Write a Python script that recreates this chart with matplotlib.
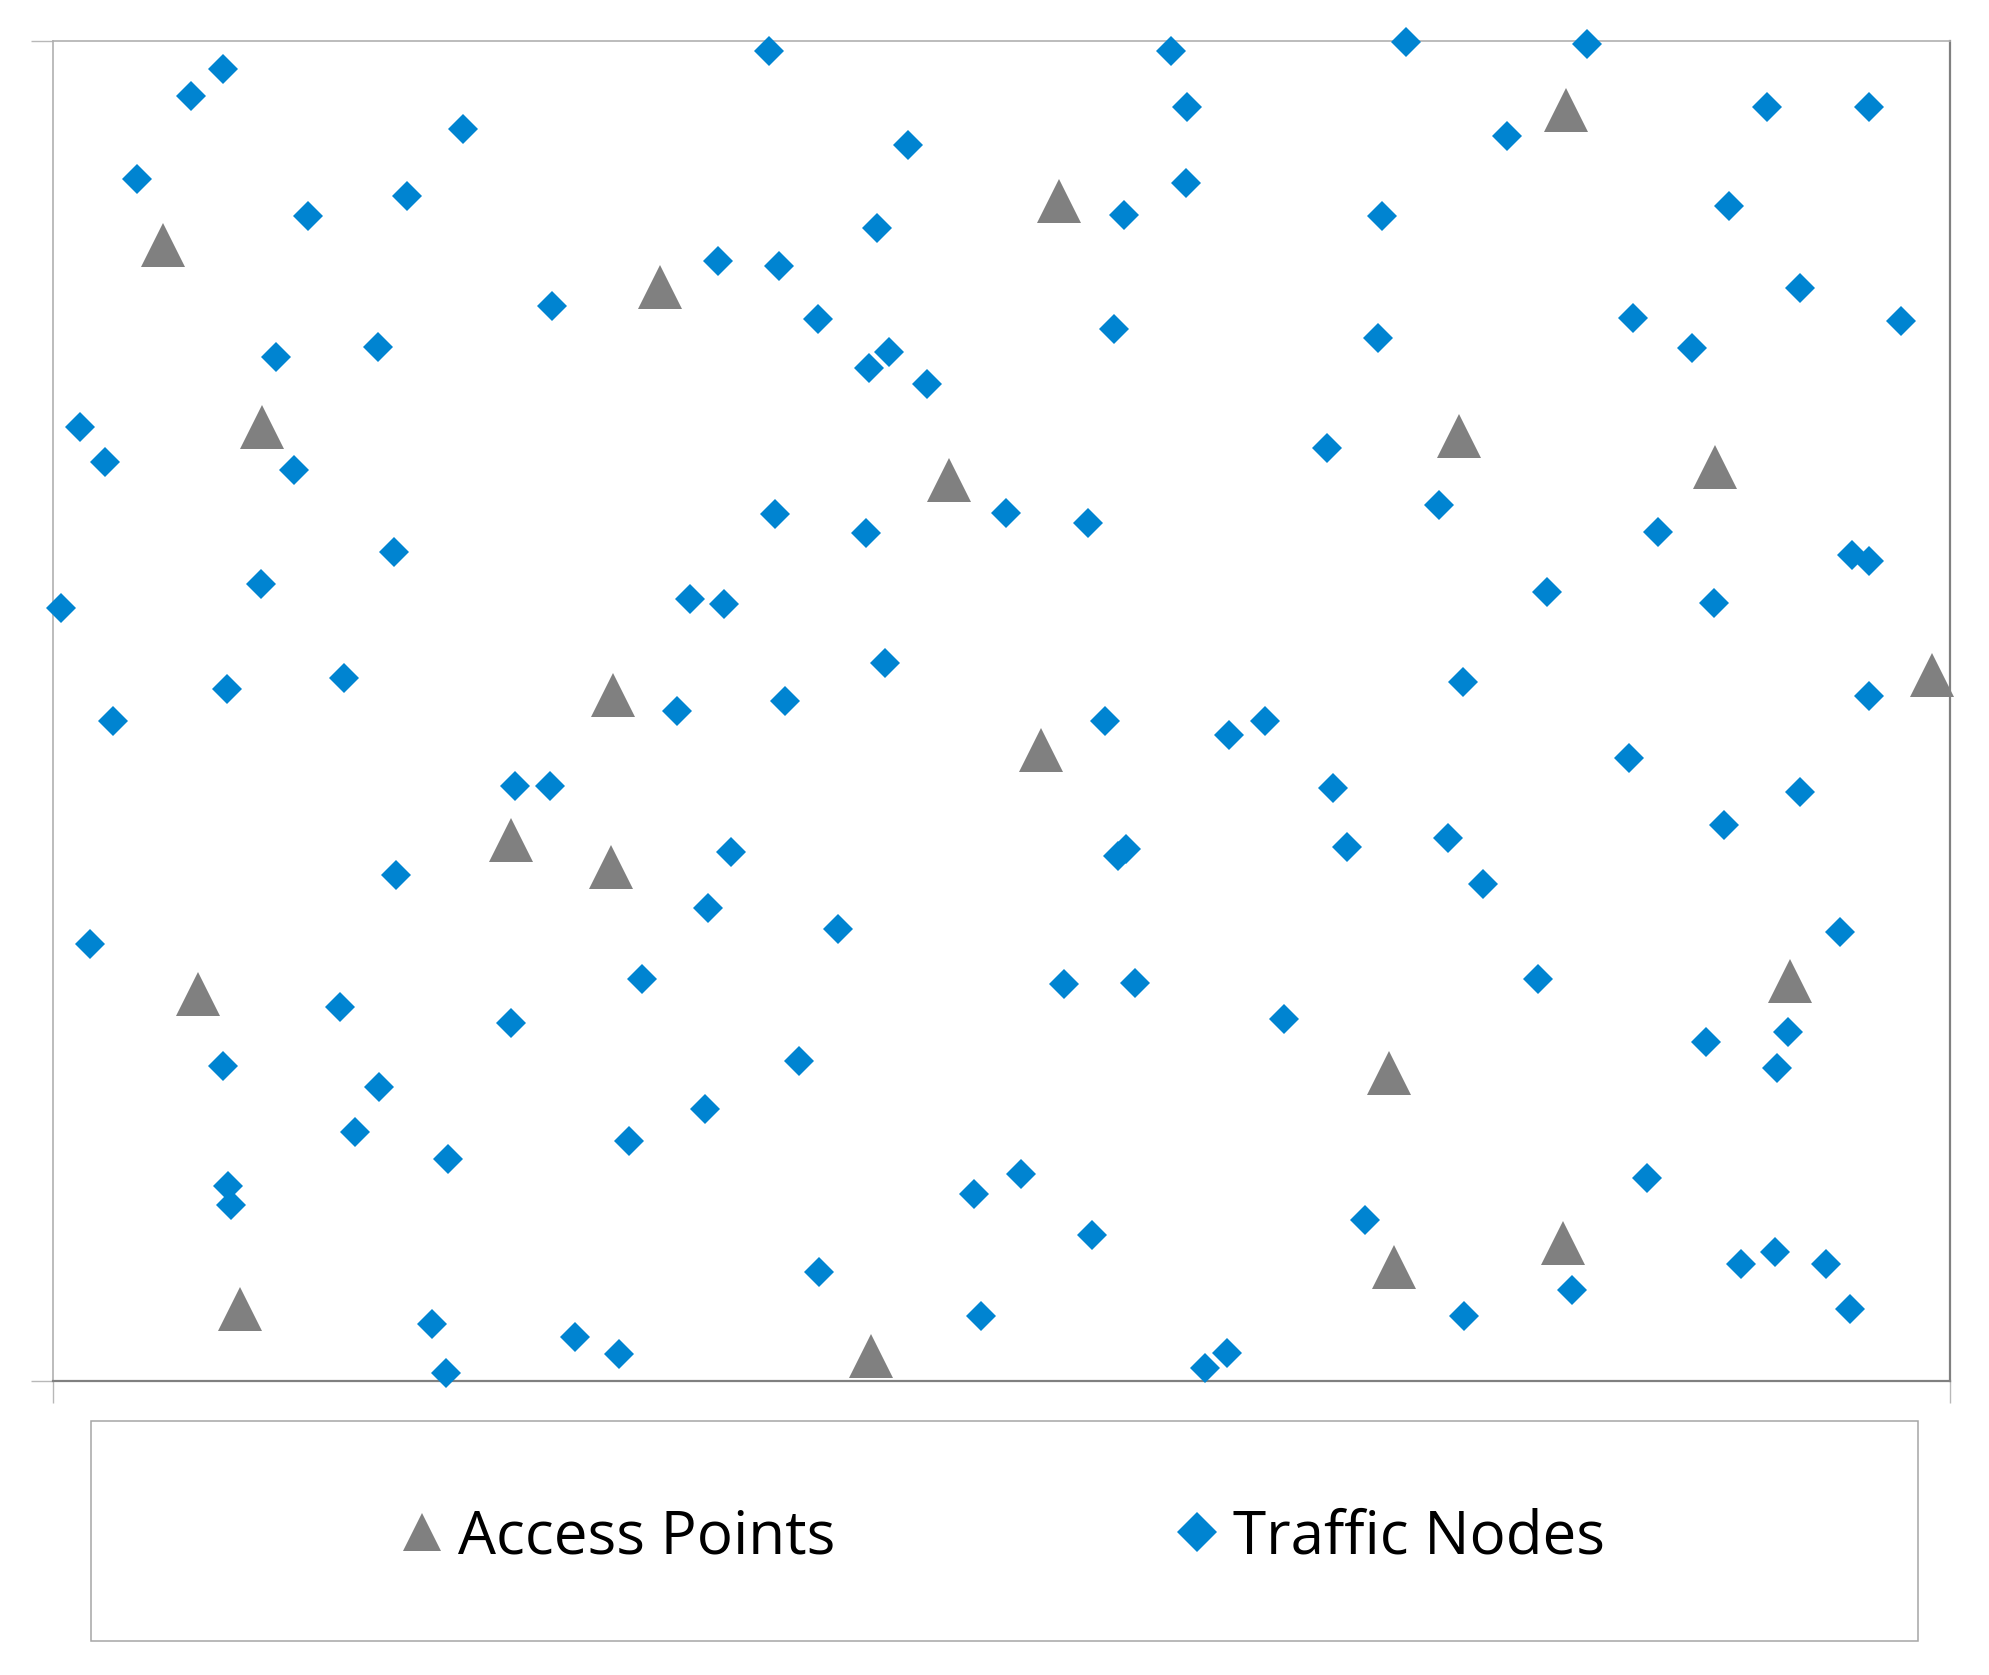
import matplotlib
matplotlib.use("Agg")
import matplotlib.pyplot as plt
from matplotlib.lines import Line2D
from matplotlib.patches import Rectangle

plt.rcParams['font.family'] = ['Open Sans', 'DejaVu Sans']

# simulation area
area_w = 1495
area_h = 1056

# access points (x, y)
ap_x = [87, 478, 793, 1192, 165, 706, 1108, 1310, 441, 779,
        1481, 361, 440, 114, 1369, 1053, 1057, 1190, 147, 645]
ap_y = [895, 862, 930, 1002, 752, 710, 745, 720, 541, 497,
        556, 426, 405, 305, 315, 243, 90, 109, 57, 20]

# traffic nodes (x, y)
node_x = [564, 881, 1066, 1209, 134, 109, 894, 1351, 1431, 323,
          1146, 674, 66, 893, 279, 1321, 201, 844, 1047, 649,
          524, 572, 1377, 393, 603, 1245, 1456, 836, 1044, 256,
          1292, 659, 176, 643, 689, 21, 1004, 41, 190, 1092,
          569, 751, 816, 641, 1265, 269, 1418, 1431, 164, 1177,
          502, 529, 1309, 6, 656, 229, 1111, 137, 492, 577,
          1431, 829, 955, 47, 927, 1242, 364, 392, 1009, 1377,
          1317, 1099, 1020, 534, 839, 846, 270, 1127, 516, 619,
          1408, 29, 464, 1170, 797, 853, 226, 361, 970, 1303,
          1367, 588, 134, 1359, 257, 514, 238, 454, 311, 1256,
          138, 140, 763, 726, 819, 1034, 604, 1330, 1357, 1397,
          1197, 1416, 731, 1112, 299, 411, 446, 925, 908, 310]
node_y = [1048, 1048, 1055, 1054, 1034, 1013, 1004, 1004, 1004, 987,
          981, 974, 947, 944, 934, 926, 918, 919, 918, 909,
          883, 879, 861, 847, 837, 838, 835, 829, 822, 815,
          814, 811, 807, 798, 786, 752, 735, 724, 718, 690,
          683, 684, 676, 668, 669, 653, 651, 646, 628, 622,
          616, 612, 613, 609, 566, 554, 551, 545, 528, 536,
          540, 520, 520, 520, 509, 491, 469, 469, 467, 464,
          438, 428, 421, 417, 414, 419, 399, 392, 373, 356,
          354, 344, 317, 317, 313, 314, 295, 282, 285, 267,
          275, 252, 248, 247, 232, 214, 196, 189, 175, 160,
          154, 139, 163, 147, 115, 127, 86, 92, 102, 92,
          72, 57, 51, 51, 45, 35, 21, 22, 10, 6]

ap_color = '#808080'
node_color = '#0084D1'

fig = plt.figure(figsize=(19.89, 16.75), dpi=100)
ax = fig.add_axes([0.02665, 0.17552, 0.95375, 0.8])

ax.plot(ap_x, ap_y, ls='none', marker='^', ms=31, mew=0,
        color=ap_color, clip_on=False, zorder=3)
ax.plot(node_x, node_y, ls='none', marker='D', ms=14.8, mew=0,
        color=node_color, clip_on=False, zorder=4)

ax.set_xlim(0, area_w)
ax.set_ylim(0, area_h)
ax.set_xticks([0, area_w])
ax.set_yticks([0, area_h])
ax.set_xticklabels([])
ax.set_yticklabels([])
ax.tick_params(direction='out', length=15.8, width=1.0, color='#B8B8B8')

for side in ['top', 'left']:
    ax.spines[side].set_color('#B0B0B0')
    ax.spines[side].set_linewidth(1.2)
for side in ['right', 'bottom']:
    ax.spines[side].set_color('#808080')
    ax.spines[side].set_linewidth(1.6)

# legend box
fig.patches.append(Rectangle((0.04575, 0.0203), 0.9643 - 0.04575, 0.15164 - 0.0203,
                             transform=fig.transFigure, fill=False,
                             edgecolor='#A6A6A6', linewidth=1.1))

handles = [
    Line2D([], [], ls='none', marker='^', ms=28, mew=0, color=ap_color),
    Line2D([], [], ls='none', marker='D', ms=19.9, mew=0, color=node_color),
]
fig.legend(handles, ['Access Points', 'Traffic Nodes'], loc='center',
           bbox_to_anchor=(0.5035, 0.0822), ncol=2, frameon=False,
           fontsize=43.3, handlelength=0.8, handletextpad=0.2,
           columnspacing=5.6, borderpad=0, numpoints=1)

fig.savefig('out.png', dpi=100)
